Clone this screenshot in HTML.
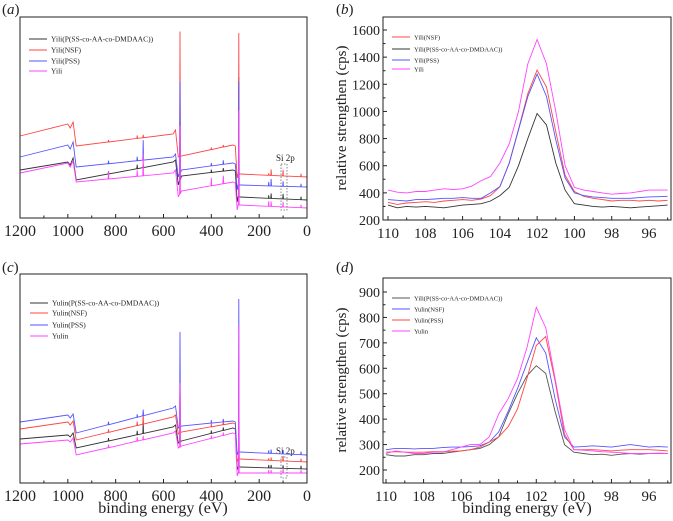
<!DOCTYPE html>
<html><head><meta charset="utf-8"><style>
html,body{margin:0;padding:0;background:#fff}
svg{display:block}
.t{font-family:"Liberation Serif",serif;fill:#222}
</style></head><body>
<svg id="fig" width="673" height="521" viewBox="0 0 673 521" xmlns="http://www.w3.org/2000/svg">
<g class="t" font-family="Liberation Serif, serif">
<text class="t" x="2" y="14" font-size="15">(<tspan font-style="italic">a</tspan>)</text>
<text class="t" x="336" y="14" font-size="15">(<tspan font-style="italic">b</tspan>)</text>
<text class="t" x="2" y="272" font-size="15">(<tspan font-style="italic">c</tspan>)</text>
<text class="t" x="336" y="272" font-size="15">(<tspan font-style="italic">d</tspan>)</text>
<text class="t" x="346" y="118" font-size="15" text-anchor="middle" transform="rotate(-90 346 118)">relative strengthen (cps)</text>
<text class="t" x="346" y="380" font-size="15" text-anchor="middle" transform="rotate(-90 346 380)">relative strengthen (cps)</text>
<text class="t" x="163" y="513" font-size="16" text-anchor="middle">binding energy (eV)</text>
<text class="t" x="527" y="513" font-size="16" text-anchor="middle">binding energy (eV)</text>
<text class="t" x="276" y="161" font-size="9">Si 2p</text>
<text class="t" x="276" y="454" font-size="9">Si 2p</text>
</g>
</svg>
<script>
// ---------- survey (a), (c) data ----------
const surveyKnotsE = [1200,1000,990,978,965,560,550,538,525,310,300,292,288,280,0];
const spikeE = [531,285,685,830,710,400,350,160,150,100,25];
const aRed = [82,94,90,96,72,84,88,61,62,73,72,40,44,44,41];
const aBlue = [61,73,69,76,51,61,64,41,48,55,54,28,33,33,31];
const aBlack = [48,56,53,60,38,56,58,33,42,48,47,16,21,21,18];
const aMag = [45,55,51,57,36,45,48,21,27,36,35,8,13,13,10];
const aRedSp = [125,141,3,2,3,2,2,2,6,6,3];
const aBlueSp = [92,103,20,3,4,3,4,4,7,5,3];
const aBlackSp = [45,120,3,3,4,3,3,3,5,5,3];
const aMagSp = [68,95,22,8,6,8,8,5,5,5,3];
const cBlue = [61,68,65,69,50,75,77,55,57,62,61,28,31,31,28];
const cRed = [54,61,58,62,43,66,68,49,51,60,59,21,24,24,21];
const cBlack = [44,48,46,50,35,56,58,40,42,55,54,13,16,16,14];
const cMag = [39,43,41,45,28,50,52,35,37,50,49,7,10,10,10];
const cBlueSp = [95,153,6,3,3,3,3,3,4,4,3];
const cRedSp = [50,100,12,3,4,3,3,2,3,5,3];
const cBlackSp = [30,80,12,3,4,3,3,3,3,3,3];
const cMagSp = [64,148,4,3,4,3,3,3,3,5,3];
const surveyTicks = [1200,1000,800,600,400,200,0];
const surveyMinor = [1100,900,700,500,300,100];
// ---------- Si 2p (b), (d) data ----------
const hrE = [110,109.5,109,108.5,108,107.5,107,106.5,106,105.5,105,104.5,104,103.5,103,102.5,102,101.5,101,100.5,100,99.5,99,98.5,98,97.5,97,96.5,96,95.5,95];
const bNSF = [330,315,325,330,335,330,340,345,350,345,355,380,445,620,870,1130,1305,1180,850,530,410,375,360,350,340,345,345,340,345,340,345];
const bPol = [310,290,300,295,300,295,290,300,310,315,320,340,380,440,600,800,985,900,620,420,320,310,300,295,300,295,290,295,300,305,310];
const bPSS = [350,345,340,350,350,355,360,360,365,360,360,400,446,618,863,1109,1275,1110,790,510,400,380,370,365,360,360,360,365,370,372,375];
const bYili = [420,405,400,410,410,420,430,425,430,450,490,520,620,760,1000,1350,1530,1350,1000,600,440,420,410,400,390,395,400,410,420,420,420];
const bTicks = [200,400,600,800,1000,1200,1400,1600];
const dPol = [260,255,255,260,260,265,265,270,275,280,285,300,330,420,500,570,610,580,430,300,270,265,260,262,258,262,265,262,265,266,265];
const dNSF = [280,285,285,283,285,285,288,290,290,292,295,310,350,430,520,620,720,660,480,330,290,292,295,293,290,295,300,295,290,292,290];
const dPSS = [270,272,270,270,270,272,272,274,275,280,290,310,330,370,440,560,690,725,550,340,280,280,280,278,275,278,280,280,280,278,275];
const dYulin = [265,275,270,265,265,270,270,280,290,300,300,330,420,480,560,680,840,760,560,360,280,278,275,272,270,268,265,265,265,265,265];
const dTicks = [200,300,400,500,600,700,800,900];
const hrTicks = [110,108,106,104,102,100,98,96];
const hrMinor = [109,107,105,103,101,99,97,95];

const NS="http://www.w3.org/2000/svg";
const svg=document.getElementById('fig');
function mk(tag,attrs,parent){const e=document.createElementNS(NS,tag);for(const k in attrs)e.setAttribute(k,attrs[k]);if(tag==='text'){e.setAttribute('class','t');e.setAttribute('font-family','Liberation Serif, serif');}(parent||svg).appendChild(e);return e;}
function scale(d0,d1,r0,r1){return v=>r0+(v-d0)/(d1-d0)*(r1-r0);}

function frame(g,L,T,R,B){
  const f=mk('rect',{x:L,y:T,width:R-L,height:B-T,fill:'none',stroke:'#222','stroke-width':1},g);
  
  
}
function xAxis(g,sx,B,ticks,minor,fs,name){
  const ax=mk('g',{},g);
  
  
  ticks.forEach(t=>{
    const x=sx(t);
    mk('line',{x1:x,x2:x,y1:B,y2:B-4,stroke:'#222'},ax);
    const tx=mk('text',{x:x,y:B+18,'font-size':fs,'text-anchor':'middle'},ax);
    tx.textContent=t;
    
    
  });
  minor.forEach(t=>{const xm=sx(t);mk('line',{x1:xm,x2:xm,y1:B,y2:B-2.5,stroke:'#222'},ax);});
}
function yAxis(g,sy,L,ticks,fs,name){
  const ax=mk('g',{},g);
  
  
  ticks.forEach((t,i)=>{
    const y=sy(t);
    mk('line',{x1:L,x2:L+4,y1:y,y2:y,stroke:'#222'},ax);
    const tx=mk('text',{x:L-3,y:y+5,'font-size':fs,'text-anchor':'end'},ax);
    tx.textContent=t;
    
    
    if(i<ticks.length-1){const ym=sy((t+ticks[i+1])/2);mk('line',{x1:L,x2:L+2.5,y1:ym,y2:ym,stroke:'#222'},ax);}
  });
}
function surveyLine(g,sx,sy,base,sp,color,name){
  const pts=surveyKnotsE.map((e,i)=>[e,base[i]]);
  const interp=e=>{for(let i=0;i<surveyKnotsE.length-1;i++){const a=surveyKnotsE[i],b=surveyKnotsE[i+1];if(e<=a&&e>=b){return base[i]+(base[i+1]-base[i])*(a-e)/(a-b);}}return base[base.length-1];};
  spikeE.forEach((e,i)=>{const b=interp(e);pts.push([e+1.5,b],[e,b+sp[i]],[e-1.5,b]);});
  pts.sort((p,q)=>q[0]-p[0]);
  const p=mk('polyline',{points:pts.map(q=>sx(q[0]).toFixed(1)+','+sy(q[1]).toFixed(1)).join(' '),fill:'none',stroke:color,'stroke-width':0.9},g);
  
  
}
function hrLine(g,sx,sy,vals,color,name){
  const p=mk('polyline',{points:hrE.map((e,i)=>sx(e).toFixed(1)+','+sy(vals[i]).toFixed(1)).join(' '),fill:'none',stroke:color,'stroke-width':0.9},g);
  
  
}
function legend(g,x,ys,items,fs,name){
  const lg=mk('g',{},g);
  
  
  items.forEach((it,i)=>{
    const en=mk('g',{},lg);
    
    
    mk('line',{x1:x,x2:x+18,y1:ys[i],y2:ys[i],stroke:it[1],'stroke-width':1},en);
    const t=mk('text',{x:x+22,y:ys[i]+2.5,'font-size':fs},en);
    t.textContent=it[0];
  });
}

// Panel a
(function(){
  const L=20,R=307,T=17,B=218;
  const g=mk('g',{});
  const sx=scale(1200,0,L,R), sy=scale(0,B-T,B,T);
  surveyLine(g,sx,sy,aBlack,aBlackSp,'#333','series-yili-polymer');
  surveyLine(g,sx,sy,aRed,aRedSp,'#f44','series-yili-nsf');
  surveyLine(g,sx,sy,aBlue,aBlueSp,'#55f','series-yili-pss');
  surveyLine(g,sx,sy,aMag,aMagSp,'#f4f','series-yili');
  const r=mk('rect',{x:281,y:164,width:6,height:46,fill:'none',stroke:'#666','stroke-dasharray':'1.5,1.5','stroke-width':0.8},g);
  
  frame(g,L,T,R,B);
  xAxis(g,sx,B,surveyTicks,surveyMinor,16,'x-axis-a');
  legend(g,29,[39,50,61,71],[['Yili(P(SS-co-AA-co-DMDAAC))','#333'],['Yili(NSF)','#f44'],['Yili(PSS)','#55f'],['Yili','#f4f']],7.5,'legend-a');
})();
// Panel c
(function(){
  const L=20,R=307,T=274,B=483;
  const g=mk('g',{});
  const sx=scale(1200,0,L,R), sy=scale(0,B-T,B,T);
  surveyLine(g,sx,sy,cBlack,cBlackSp,'#333','series-yulin-polymer');
  surveyLine(g,sx,sy,cRed,cRedSp,'#f44','series-yulin-nsf');
  surveyLine(g,sx,sy,cBlue,cBlueSp,'#55f','series-yulin-pss');
  surveyLine(g,sx,sy,cMag,cMagSp,'#f4f','series-yulin');
  const r=mk('rect',{x:281,y:457,width:6,height:21,fill:'none',stroke:'#666','stroke-dasharray':'1.5,1.5','stroke-width':0.8},g);
  
  frame(g,L,T,R,B);
  xAxis(g,sx,B,surveyTicks,surveyMinor,16,'x-axis-c');
  legend(g,30,[303,313,325,336],[['Yulin(P(SS-co-AA-co-DMDAAC))','#333'],['Yulin(NSF)','#f44'],['Yulin(PSS)','#55f'],['Yulin','#f4f']],7.5,'legend-c');
})();
// Panel b
(function(){
  const L=383,R=671,T=17,B=220;
  const g=mk('g',{});
  const sx=scale(110,96,388,649), sy=scale(200,1600,B,30);
  hrLine(g,sx,sy,bPol,'#333','series-yili-polymer');
  hrLine(g,sx,sy,bNSF,'#f44','series-yili-nsf');
  hrLine(g,sx,sy,bPSS,'#55f','series-yili-pss');
  hrLine(g,sx,sy,bYili,'#f4f','series-yili');
  frame(g,L,T,R,B);
  xAxis(g,sx,B,hrTicks,hrMinor,15,'x-axis-b');
  yAxis(g,sy,L,bTicks,14,'y-axis-b');
  legend(g,392,[37,49,60,69],[['Yili(NSF)','#f44'],['Yili(P(SS-co-AA-co-DMDAAC))','#333'],['Yili(PSS)','#55f'],['Yili','#f4f']],6.5,'legend-b');
})();
// Panel d
(function(){
  const L=383,R=671,T=278,B=483;
  const g=mk('g',{});
  const sx=scale(110,96,386,649), sy=scale(200,900,470,292);
  hrLine(g,sx,sy,dPol,'#555','series-yili-polymer');
  hrLine(g,sx,sy,dNSF,'#55f','series-yulin-nsf');
  hrLine(g,sx,sy,dPSS,'#f44','series-yulin-pss');
  hrLine(g,sx,sy,dYulin,'#f4f','series-yulin');
  frame(g,L,T,R,B);
  xAxis(g,sx,B,hrTicks,hrMinor,15,'x-axis-d');
  yAxis(g,sy,L,dTicks,14,'y-axis-d');
  legend(g,392,[298,309,320,331],[['Yili(P(SS-co-AA-co-DMDAAC))','#555'],['Yulin(NSF)','#55f'],['Yulin(PSS)','#f44'],['Yulin','#f4f']],6.5,'legend-d');
})();
</script>
</body></html>
